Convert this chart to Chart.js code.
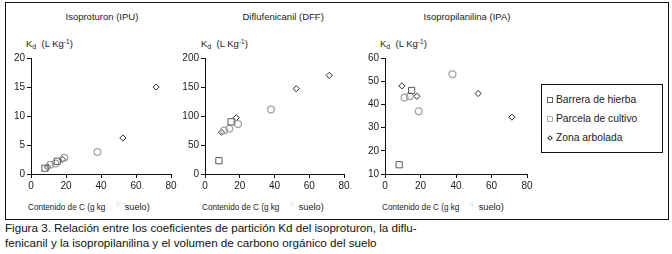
<!DOCTYPE html>
<html>
<head>
<meta charset="utf-8">
<script src="https://cdn.jsdelivr.net/npm/chart.js@4.4.1/dist/chart.umd.min.js"></script>
<style>
  html, body { margin: 0; padding: 0; background: #fff; }
  body { width: 672px; height: 254px; position: relative; overflow: hidden; font-family: "Liberation Sans", Arial, sans-serif; color: #1a1a1a; }
  canvas { position: absolute; left: 0; top: 0; }
  .frame { position: absolute; left: 5px; top: 2px; width: 662px; height: 216px; border: 1px solid #111; }
  .t { position: absolute; font-size: 9.5px; white-space: nowrap; line-height: 1; color: #222; }
  .kd { position: absolute; font-size: 9.5px; white-space: nowrap; line-height: 1; color: #222; }
  .kd sub { font-size: 7px; vertical-align: -2px; }
  .kd sup { font-size: 6.5px; vertical-align: 3px; }
  .xt { position: absolute; font-size: 8.2px; white-space: nowrap; line-height: 1; color: #222; }
  .xt sup { font-size: 6px; color: #d4d4d4; vertical-align: 4px; margin-left: 9px; }
  .xt .s { font-size: 9.2px; margin-left: 5px; }
  .legend { position: absolute; left: 541px; top: 84px; width: 120px; height: 67px; border: 1px solid #111; }
  .li { position: absolute; left: 14px; font-size: 10.3px; white-space: nowrap; line-height: 1; color: #222; }
  .mk { position: absolute; box-sizing: border-box; }
  .cap { position: absolute; left: 5px; font-size: 11px; white-space: nowrap; line-height: 1; color: #111; font-family: "Liberation Sans", sans-serif; }
</style>
</head>
<body>
<div class="frame"></div>

<div class="t" id="t1" style="top:12px">Isoproturon (IPU)</div>
<div class="t" id="t2" style="top:12px">Diflufenicanil (DFF)</div>
<div class="t" id="t3" style="top:12px">Isopropilanilina (IPA)</div>

<div class="kd" style="left:26px;top:39px">K<sub>d</sub>&nbsp;&nbsp;(L Kg<sup>-1</sup>)</div>
<div class="kd" style="left:201px;top:39px">K<sub>d</sub>&nbsp;&nbsp;(L Kg<sup>-1</sup>)</div>
<div class="kd" style="left:380px;top:39px">K<sub>d</sub>&nbsp;&nbsp;(L Kg<sup>-1</sup>)</div>

<div class="xt" style="left:28px;top:201px">Contenido de C (g kg<sup>-1</sup><span class="s">suelo)</span></div>
<div class="xt" style="left:202px;top:201px">Contenido de C (g kg<sup>-1</sup><span class="s">suelo)</span></div>
<div class="xt" style="left:382px;top:201px">Contenido de C (g kg<sup>-1</sup><span class="s">suelo)</span></div>

<div class="legend">
  <div class="mk" style="left:5px;top:12px;width:6px;height:6px;border:1px solid #666;"></div>
  <div class="li" style="top:10px">Barrera de hierba</div>
  <div class="mk" style="left:5px;top:31px;width:6px;height:6px;border:1px solid #aaa;border-radius:1px;"></div>
  <div class="li" style="top:29px">Parcela de cultivo</div>
  <div class="mk" style="left:6px;top:51px;width:4px;height:4px;border:1px solid #333;transform:rotate(45deg);"></div>
  <div class="li" style="top:48px">Zona arbolada</div>
</div>

<div class="cap" id="c1" style="top:222px">Figura 3. Relación entre los coeficientes de partición Kd del isoproturon, la diflu-</div>
<div class="cap" id="c2" style="top:237px">fenicanil y la isopropilanilina y el volumen de carbono orgánico del suelo</div>

<canvas id="ch1" width="672" height="220"></canvas>
<canvas id="ch2" width="672" height="220"></canvas>
<canvas id="ch3" width="672" height="220"></canvas>

<script>
// Carbon content (g kg-1 soil) for each sample group
const xBarrera = [8, 15];
const xParcela = [11, 14, 19, 38];
const xZona = [9.5, 18, 52.5, 71.5];

// Kd values, Isoproturon (IPU)
const ipuBarrera = [1.0, 2.2];
const ipuParcela = [1.6, 1.8, 2.8, 3.8];
const ipuZona = [1.2, 2.5, 6.2, 15.0];

// Kd values, Diflufenicanil (DFF)
const dffBarrera = [23, 90];
const dffParcela = [75, 78, 86, 111];
const dffZona = [72, 97, 147, 170];

// Kd values, Isopropilanilina (IPA)
const ipaBarrera = [14, 46];
const ipaParcela = [43, 43.5, 37, 53];
const ipaZona = [48, 43.5, 44.7, 34.5];

const seriesNames = ['Barrera de hierba', 'Parcela de cultivo', 'Zona arbolada'];
const xTicks = [0, 20, 40, 60, 80];

const panels = [
  { id: 'ch1', axisX: 31, right: 171, yMin: 0, yMax: 20, yStep: 5, data: [ipuBarrera, ipuParcela, ipuZona] },
  { id: 'ch2', axisX: 205, right: 344, yMin: 0, yMax: 200, yStep: 50, data: [dffBarrera, dffParcela, dffZona] },
  { id: 'ch3', axisX: 385, right: 527, yMin: 10, yMax: 60, yStep: 10, data: [ipaBarrera, ipaParcela, ipaZona] }
];

const xs = [xBarrera, xParcela, xZona];
const styles = [
  { pointStyle: 'rect', radius: 4.4, borderColor: '#5a5a5a', borderWidth: 1 },
  { pointStyle: 'circle', radius: 3.4, borderColor: '#a4a4a4', borderWidth: 1.3 },
  { pointStyle: 'rectRot', radius: 3.1, borderColor: '#2a2a2a', borderWidth: 1 }
];

const PLOT_TOP = 58, PLOT_BOTTOM = 174, CANVAS_H = 220, YW = 24, XH = 24;
const FONT = { family: 'Liberation Sans', size: 10 };

panels.forEach(p => {
  const datasets = p.data.map((vals, i) => ({
    label: seriesNames[i],
    data: vals.map((v, k) => ({ x: xs[i][k], y: v })),
    pointStyle: styles[i].pointStyle,
    pointRadius: styles[i].radius,
    pointBorderColor: styles[i].borderColor,
    pointBorderWidth: styles[i].borderWidth,
    pointBackgroundColor: 'rgba(255,255,255,0)',
    showLine: false
  }));
  new Chart(document.getElementById(p.id), {
    type: 'scatter',
    data: { datasets },
    options: {
      responsive: false,
      animation: false,
      devicePixelRatio: 1,
      layout: { padding: { left: p.axisX - YW, right: 672 - p.right, top: PLOT_TOP, bottom: CANVAS_H - PLOT_BOTTOM - XH } },
      plugins: { legend: { display: false }, tooltip: { enabled: false } },
      scales: {
        x: {
          type: 'linear', min: 0, max: 80,
          afterBuildTicks: s => { s.ticks = xTicks.map(v => ({ value: v })); },
          afterFit: s => { s.height = XH; },
          ticks: { font: FONT, color: '#1a1a1a', padding: 2, maxRotation: 0 },
          grid: { display: true, drawOnChartArea: false, drawTicks: true, tickLength: 4, color: '#111', lineWidth: 1 },
          border: { display: true, color: '#111', width: 1 }
        },
        y: {
          type: 'linear', min: p.yMin, max: p.yMax,
          ticks: { stepSize: p.yStep, font: FONT, color: '#1a1a1a', padding: 2 },
          afterFit: s => { s.width = YW; },
          grid: { display: true, drawOnChartArea: false, drawTicks: true, tickLength: 4, color: '#111', lineWidth: 1 },
          border: { display: true, color: '#111', width: 1 }
        }
      }
    }
  });
});

// center panel titles over their region
const centers = { t1: 102, t2: 283, t3: 467 };
Object.keys(centers).forEach(id => {
  const el = document.getElementById(id);
  el.style.left = (centers[id] - el.offsetWidth / 2) + 'px';
});
// fit caption line width
const c1 = document.getElementById('c1');
const scale = 413 / c1.offsetWidth;
['c1', 'c2'].forEach(id => {
  const el = document.getElementById(id);
  el.style.fontSize = (11 * scale) + 'px';
});
</script>
</body>
</html>
